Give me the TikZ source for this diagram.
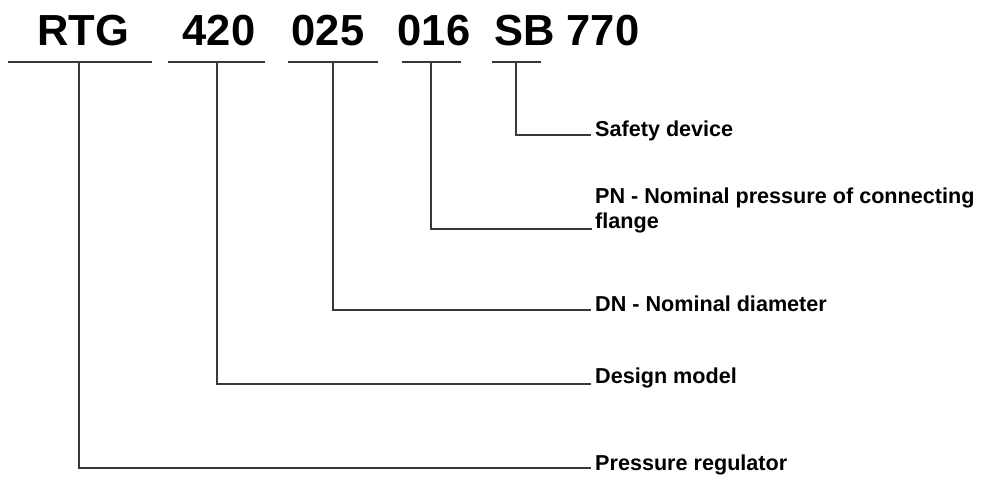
\documentclass[tikz,border=0pt]{standalone}
\usepackage{fontspec}
\setmainfont{Liberation Sans}
\begin{document}
\begin{tikzpicture}[x=1pt,y=-1pt,
  code/.style={font=\fontsize{43.5}{47}\selectfont\bfseries, inner sep=0pt, anchor=base},
  lab/.style={font=\fontsize{21.6}{25}\selectfont\bfseries, inner sep=0pt, anchor=west},
  bar/.style={draw=black!78, line width=1.6pt},
  conn/.style={draw=black!78, line width=1.6pt}]
\useasboundingbox (0,0) rectangle (981,482);
% codes
\node[code] (c1) at (83,45) {RTG};
\node[code] (c2) at (219,45) {420};
\node[code] (c3) at (328,45) {025};
\node[code] (c4) at (434,45) {016};
\node[code, anchor=base west] (c5) at (494,45) {SB 770};
% bars
\coordinate (b1l) at (8,62);  \coordinate (b1r) at (152,62);
\coordinate (b2l) at (168,62); \coordinate (b2r) at (265,62);
\coordinate (b3l) at (288,62); \coordinate (b3r) at (378,62);
\coordinate (b4l) at (402,62); \coordinate (b4r) at (461,62);
\coordinate (b5l) at (492,62); \coordinate (b5r) at (541,62);
\coordinate (t1) at (79,62);
\coordinate (t2) at (217,62);
\coordinate (t3) at (333,62);
\coordinate (t4) at (431,62);
\coordinate (t5) at (516,62);
\draw[bar] (b1l) -- (b1r);
\draw[bar] (b2l) -- (b2r);
\draw[bar] (b3l) -- (b3r);
\draw[bar] (b4l) -- (b4r);
\draw[bar] (b5l) -- (b5r);
% labels
\node[lab] (l5) at (595,131) {Safety device};
\node[lab] (l4a) at (595,198) {PN - Nominal pressure of connecting};
\node[lab] (l4) at (595,223) {flange};
\node[lab] (l3) at (595,304) {DN - Nominal diameter};
\node[lab] (l2) at (595,378) {Design model};
\node[lab] (l1) at (595,465) {Pressure regulator};
% connectors
\draw[conn] (t5) |- ([xshift=-4pt,yshift=-4pt]l5.west);
\draw[conn] (t4) |- ([xshift=-3pt,yshift=-6pt]l4.west);
\draw[conn] (t3) |- ([xshift=-4pt,yshift=-6pt]l3.west);
\draw[conn] (t2) |- ([xshift=-4pt,yshift=-6pt]l2.west);
\draw[conn] (t1) |- ([xshift=-4pt,yshift=-3pt]l1.west);
\end{tikzpicture}
\end{document}
